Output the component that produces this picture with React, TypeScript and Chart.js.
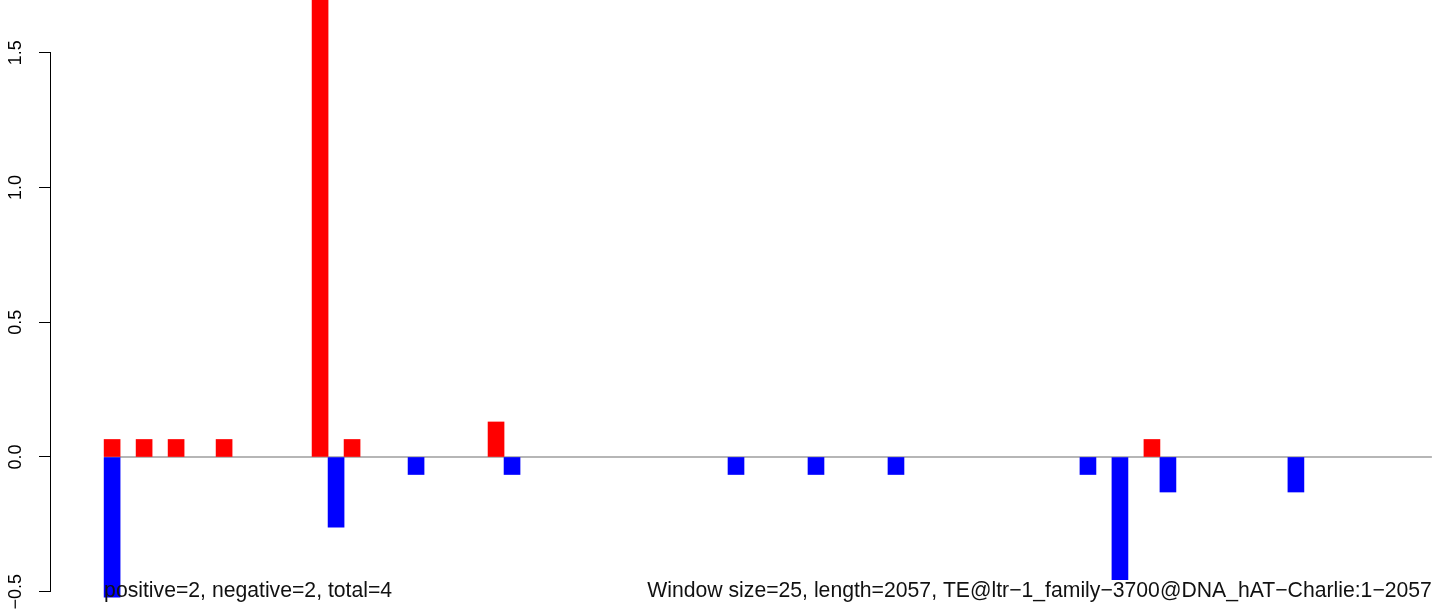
import React, { useEffect, useRef } from "react";
import { Chart, registerables } from "chart.js";

Chart.register(...registerables);

// ---- data ----
const WINDOW_SIZE = 25;
const SEQ_LENGTH = 2057;
const N_WINDOWS = Math.ceil(SEQ_LENGTH / WINDOW_SIZE); // 83 windows

// window index -> value (positive strand, red)
const POS_WINDOWS = [0, 2, 4, 7, 13, 15, 24, 65];
const POS_VALUES = [0.065, 0.065, 0.065, 0.065, 1.82, 0.065, 0.13, 0.065];
// window index -> value (negative strand, blue)
const NEG_WINDOWS = [0, 14, 19, 25, 39, 44, 49, 61, 63, 66, 74];
const NEG_VALUES = [-0.52, -0.26, -0.065, -0.065, -0.065, -0.065, -0.065, -0.065, -0.455, -0.13, -0.13];

const Y_TICKS = [-0.5, 0, 0.5, 1, 1.5];
const Y_TICK_LABELS = ["\u22120.5", "0.0", "0.5", "1.0", "1.5"];
const Y_MIN = -0.579;
const Y_MAX = 1.696;
const X_MIN = -0.04 * N_WINDOWS;
const X_MAX = N_WINDOWS * 1.04;

const LEFT_TEXT = "positive=2, negative=2, total=4";
const RIGHT_TEXT =
  "Window size=25, length=2057, TE@ltr\u22121_family\u22123700@DNA_hAT\u2212Charlie:1\u22122057";
const TEXT_Y = -0.5;

const FONT = '"Liberation Sans", Arial, Helvetica, sans-serif';

function buildSeries(windows: number[], values: number[]) {
  const arr: { x: number; y: number | null }[] = [];
  for (let i = 0; i < N_WINDOWS; i++) arr.push({ x: i + 0.5, y: null });
  windows.forEach((w, k) => {
    arr[w].y = values[k];
  });
  return arr;
}

const rDecorPlugin = {
  id: "rDecor",
  beforeDatasetsDraw(chart: any) {
    const { ctx } = chart;
    const xs = chart.scales.x;
    const ys = chart.scales.y;
    const y0 = Math.round(ys.getPixelForValue(0));
    ctx.save();
    ctx.strokeStyle = "#9e9e9e";
    ctx.lineWidth = 1.6;
    ctx.beginPath();
    ctx.moveTo(xs.getPixelForValue(0), y0);
    ctx.lineTo(xs.getPixelForValue(N_WINDOWS), y0);
    ctx.stroke();
    ctx.restore();
  },
  afterDraw(chart: any) {
    const { ctx, chartArea } = chart;
    const xs = chart.scales.x;
    const ys = chart.scales.y;
    ctx.save();
    // y axis segment (R style: only between extreme ticks)
    const ax = Math.round(chartArea.left) - 0.5;
    ctx.strokeStyle = "#000";
    ctx.lineWidth = 1;
    ctx.beginPath();
    ctx.moveTo(ax, ys.getPixelForValue(Y_TICKS[0]));
    ctx.lineTo(ax, ys.getPixelForValue(Y_TICKS[Y_TICKS.length - 1]));
    ctx.stroke();

    // rotated tick labels
    ctx.fillStyle = "#000";
    ctx.font = `18px ${FONT}`;
    ctx.textAlign = "center";
    ctx.textBaseline = "alphabetic";
    Y_TICKS.forEach((v, i) => {
      ctx.save();
      ctx.translate(chartArea.left - 30.5, ys.getPixelForValue(v));
      ctx.rotate(-Math.PI / 2);
      ctx.fillText(Y_TICK_LABELS[i], 0, 0);
      ctx.restore();
    });

    // annotation texts
    ctx.font = `21.2px ${FONT}`;
    ctx.fillStyle = "#111";
    const ty = ys.getPixelForValue(TEXT_Y) + 5;
    ctx.textAlign = "left";
    ctx.fillText(LEFT_TEXT, xs.getPixelForValue(0), ty);
    ctx.textAlign = "right";
    ctx.fillText(RIGHT_TEXT, xs.getPixelForValue(N_WINDOWS), ty);
    ctx.restore();
  },
};

export default function App() {
  const canvasRef = useRef<HTMLCanvasElement | null>(null);

  useEffect(() => {
    if (!canvasRef.current) return;
    const chart = new Chart(canvasRef.current, {
      type: "bar",
      data: {
        datasets: [
          {
            label: "positive",
            data: buildSeries(POS_WINDOWS, POS_VALUES) as any,
            backgroundColor: "#ff0000",
            borderWidth: 0,
            grouped: false,
            barPercentage: 1,
            categoryPercentage: 1,
          } as any,
          {
            label: "negative",
            data: buildSeries(NEG_WINDOWS, NEG_VALUES) as any,
            backgroundColor: "#0000ff",
            borderWidth: 0,
            grouped: false,
            barPercentage: 1,
            categoryPercentage: 1,
          } as any,
        ],
      },
      options: {
        animation: false,
        responsive: true,
        maintainAspectRatio: false,
        layout: { padding: 0 },
        plugins: {
          legend: { display: false },
          tooltip: { enabled: false },
        },
        scales: {
          x: {
            type: "linear",
            min: X_MIN,
            max: X_MAX,
            offset: false,
            display: false,
            grid: { offset: false },
            afterBuildTicks: (s: any) => {
              s.ticks = [{ value: X_MIN }, { value: X_MAX }];
            },
          },
          y: {
            type: "linear",
            position: "left",
            min: Y_MIN,
            max: Y_MAX,
            afterBuildTicks: (s: any) => {
              s.ticks = Y_TICKS.map((v) => ({ value: v }));
            },
            afterFit: (s: any) => {
              s.width = 51;
            },
            ticks: { display: false },
            border: { display: false },
            grid: {
              drawOnChartArea: false,
              drawTicks: true,
              tickLength: 12,
              color: "#000",
              lineWidth: 1,
            },
          },
        },
      } as any,
      plugins: [rDecorPlugin],
    });
    return () => chart.destroy();
  }, []);

  return (
    <div
      style={{
        position: "fixed",
        left: 0,
        top: 0,
        width: 1444,
        height: 613,
        overflow: "hidden",
        background: "#fff",
      }}
    >
      <div style={{ position: "relative", width: 1485, height: 613 }}>
        <canvas ref={canvasRef} />
      </div>
    </div>
  );
}
